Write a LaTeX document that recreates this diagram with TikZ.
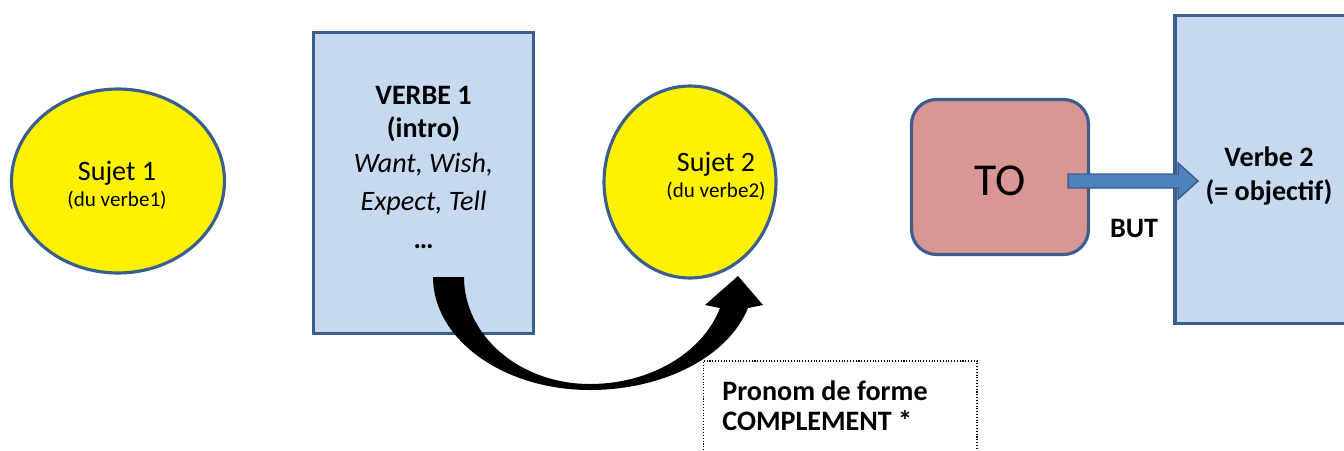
\documentclass[tikz,border=0pt]{standalone}
\usepackage{fontspec}
\setmainfont{Carlito}
\usetikzlibrary{shapes.geometric}
\definecolor{boxline}{HTML}{3A5F8C}
\definecolor{boxfill}{HTML}{C6D9F1}
\definecolor{tofill}{HTML}{D99694}
\definecolor{arrowfill}{HTML}{4F81BD}
\begin{document}
\begin{tikzpicture}[x=0.02cm, y=-0.02cm,
  oval/.style={ellipse, draw=boxline, fill=yellow, line width=1.8pt, inner sep=0pt},
  verbbox/.style={rectangle, draw=boxline, fill=boxfill, line width=1.8pt, inner sep=0pt},
  txt/.style={align=center, inner sep=0pt, font=\fontsize{16}{15}\selectfont},
  small/.style={font=\fontsize{12}{15}\selectfont}]
  \useasboundingbox (0,0) rectangle (1344,450);

  %% subjects
  \node[oval, minimum width=4.26cm, minimum height=3.68cm] (sujetA) at (118,181) {};
  \node[txt] (sujetAtxt) at (117,185) {Sujet 1\\{\fontsize{12}{15}\selectfont (du verbe1)}};
  \node[oval, minimum width=3.44cm, minimum height=3.84cm] (sujetB) at (690,182) {};
  \node[txt] (sujetBtxt) at (716,176) {Sujet 2\\{\fontsize{12}{15}\selectfont (du verbe2)}};

  %% verb 1
  \node[verbbox, minimum width=4.40cm, minimum height=6.02cm] (verbeA) at (423.5,183) {};
  \node[txt, font=\fontsize{16}{19.2}\selectfont, anchor=north] (verbeAtxt) at (423.5,86)
    {\textbf{VERBE 1}\\[-0.5pt]\textbf{(intro)}\\[0.6pt]\textit{Want, Wish,}\\[2.3pt]\textit{Expect, Tell}\\[2.7pt]\textbf{…}};

  %% TO
  \node[verbbox, fill=tofill, rounded corners=0.5cm, minimum width=3.54cm, minimum height=3.10cm] (to) at (1000,177) {};
  \node[inner sep=0pt, font=\fontsize{26}{30}\selectfont] (totxt) at (1000,181) {TO};

  %% verb 2
  \node[verbbox, minimum width=4.2cm, minimum height=6.16cm] (verbeB) at (1280,169.5) {};
  \node[txt, font=\bfseries\fontsize{16}{19}\selectfont] (verbeBtxt) at (1269,176) {Verbe 2\\(= objectif)};
  \node[inner sep=0pt, font=\bfseries\fontsize{16}{19}\selectfont] (but) at (1134,228) {BUT};

  %% arrow TO -> verb 2
  \filldraw[fill=arrowfill, draw=boxline, line width=0.8pt]
    ([xshift=-0.44cm, yshift=-0.08cm]to.east) ++(0,-7) -- ++(110,0) -- ++(0,-11)
    -- ++(20,18) -- ++(-20,18) -- ++(0,-11) -- ++(-110,0) -- cycle;

  %% note
  \node[draw, densely dotted, line width=0.6pt, minimum width=5.48cm, minimum height=2.18cm, inner sep=0pt] (note) at (840,415.5) {};
  \node[align=left, inner sep=0pt, anchor=north west, font=\bfseries\fontsize{16}{16.8}\selectfont] (notetxt) at (722,380.5)
    {Pronom de forme\\COMPLEMENT *};

  %% curved arrow
  \fill[black] (433,277) .. controls (433,339) and (503,390) .. (590,390)
    .. controls (663,390) and (728,357) .. (748,308)
    -- (763,305) -- (738,276) -- (705,305) -- (720,308)
    .. controls (702,354) and (649,384) .. (590,384)
    .. controls (520,384) and (464,336) .. (464,277) -- cycle;

\end{tikzpicture}
\end{document}
